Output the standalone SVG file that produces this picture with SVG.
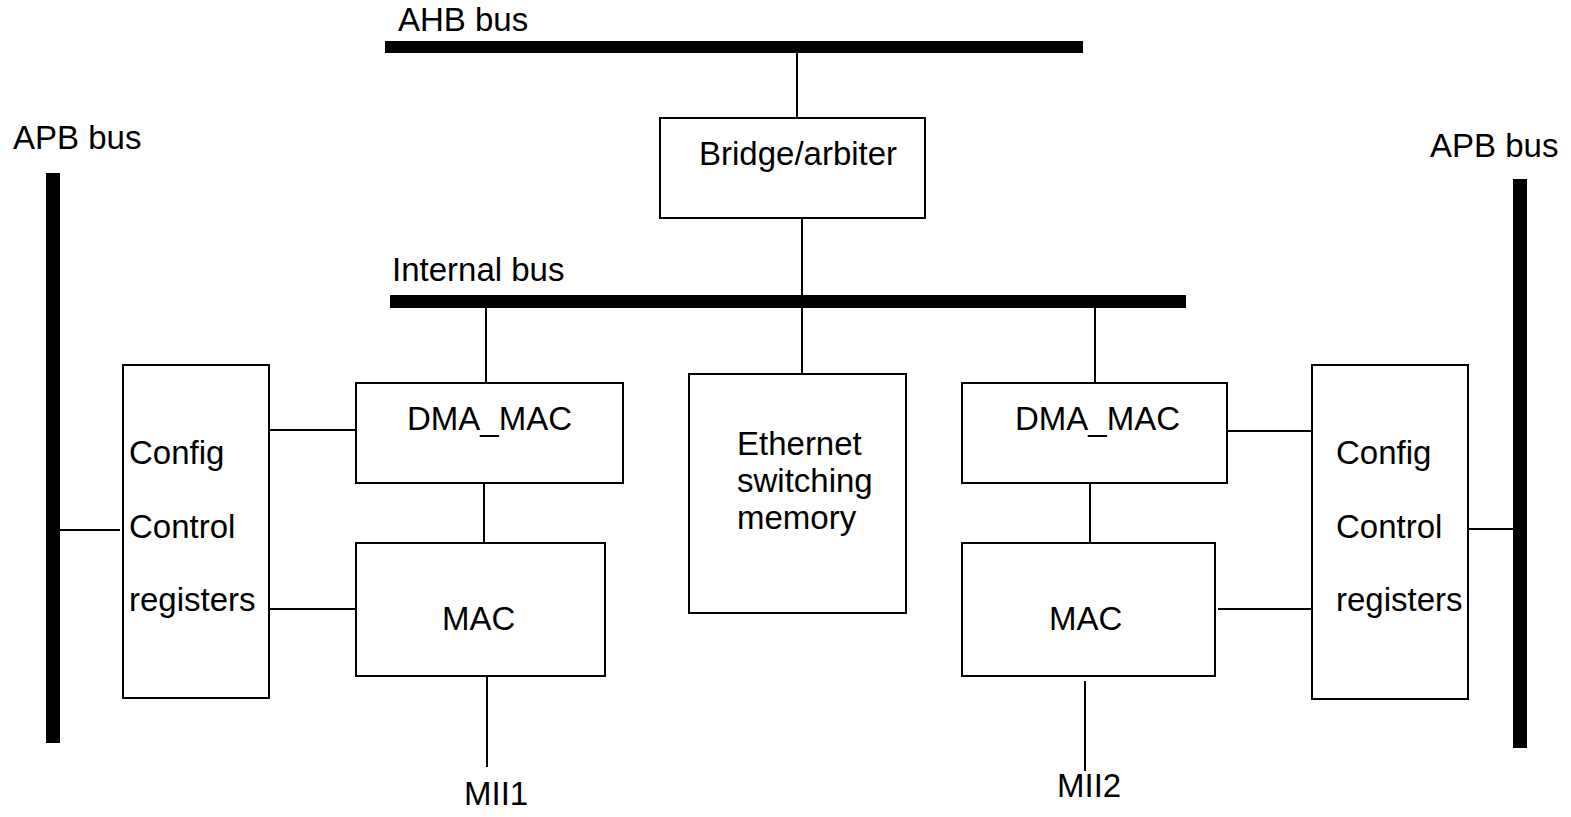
<svg xmlns="http://www.w3.org/2000/svg" width="1571" height="817" viewBox="0 0 1571 817">
<style>
.box{fill:#fff;stroke:#000;stroke-width:2}
.ln{stroke:#000;stroke-width:2;fill:none}
.bus{fill:#000}
text{font-family:"Liberation Sans",Arial,sans-serif;font-size:33px;fill:#000}
</style>
<rect width="1571" height="817" fill="#fff"/>
<g id="buses">
<rect id="ahb-bus" class="bus" x="385" y="41" width="698" height="12"/>
<text x="398" y="31">AHB bus</text>
<rect id="internal-bus" class="bus" x="390" y="295" width="796" height="13"/>
<text x="392" y="281">Internal bus</text>
<rect id="apb-left" class="bus" x="46" y="173" width="14" height="570"/>
<text x="13" y="149">APB bus</text>
<rect id="apb-right" class="bus" x="1513" y="179" width="14" height="569"/>
<text x="1430" y="157">APB bus</text>
</g>
<g id="connectors">
<line class="ln" x1="797" y1="53" x2="797" y2="118"/>
<line class="ln" x1="802" y1="218" x2="802" y2="296"/>
<line class="ln" x1="486" y1="308" x2="486" y2="383"/>
<line class="ln" x1="802" y1="308" x2="802" y2="374"/>
<line class="ln" x1="1095" y1="308" x2="1095" y2="383"/>
<line class="ln" x1="60" y1="530" x2="120" y2="530"/>
<line class="ln" x1="269" y1="430" x2="356" y2="430"/>
<line class="ln" x1="269" y1="609" x2="356" y2="609"/>
<line class="ln" x1="484" y1="483" x2="484" y2="543"/>
<line class="ln" x1="487" y1="676" x2="487" y2="767"/>
<line class="ln" x1="1090" y1="483" x2="1090" y2="543"/>
<line class="ln" x1="1085" y1="681" x2="1085" y2="771"/>
<line class="ln" x1="1227" y1="431" x2="1312" y2="431"/>
<line class="ln" x1="1218" y1="609" x2="1312" y2="609"/>
<line class="ln" x1="1466" y1="529" x2="1513" y2="529"/>
</g>
<g id="bridge">
<rect class="box" x="660" y="118" width="265" height="100"/>
<text x="699" y="165">Bridge/arbiter</text>
</g>
<g id="config-left">
<rect class="box" x="123" y="365" width="146" height="333"/>
<text x="129" y="464">Config</text>
<text x="129" y="538">Control</text>
<text x="129" y="611">registers</text>
</g>
<g id="dma-left">
<rect class="box" x="356" y="383" width="267" height="100"/>
<text x="407" y="430">DMA_MAC</text>
</g>
<g id="mac-left">
<rect class="box" x="356" y="543" width="249" height="133"/>
<text x="442" y="630">MAC</text>
</g>
<g id="mii1"><text x="464" y="805">MII1</text></g>
<g id="ethernet-memory">
<rect class="box" x="689" y="374" width="217" height="239"/>
<text x="737" y="455">Ethernet</text>
<text x="737" y="492">switching</text>
<text x="737" y="529">memory</text>
</g>
<g id="dma-right">
<rect class="box" x="962" y="383" width="265" height="100"/>
<text x="1015" y="430">DMA_MAC</text>
</g>
<g id="mac-right">
<rect class="box" x="962" y="543" width="253" height="133"/>
<text x="1049" y="630">MAC</text>
</g>
<g id="mii2"><text x="1057" y="797">MII2</text></g>
<g id="config-right">
<rect class="box" x="1312" y="365" width="156" height="334"/>
<text x="1336" y="464">Config</text>
<text x="1336" y="538">Control</text>
<text x="1336" y="611">registers</text>
</g>
</svg>
